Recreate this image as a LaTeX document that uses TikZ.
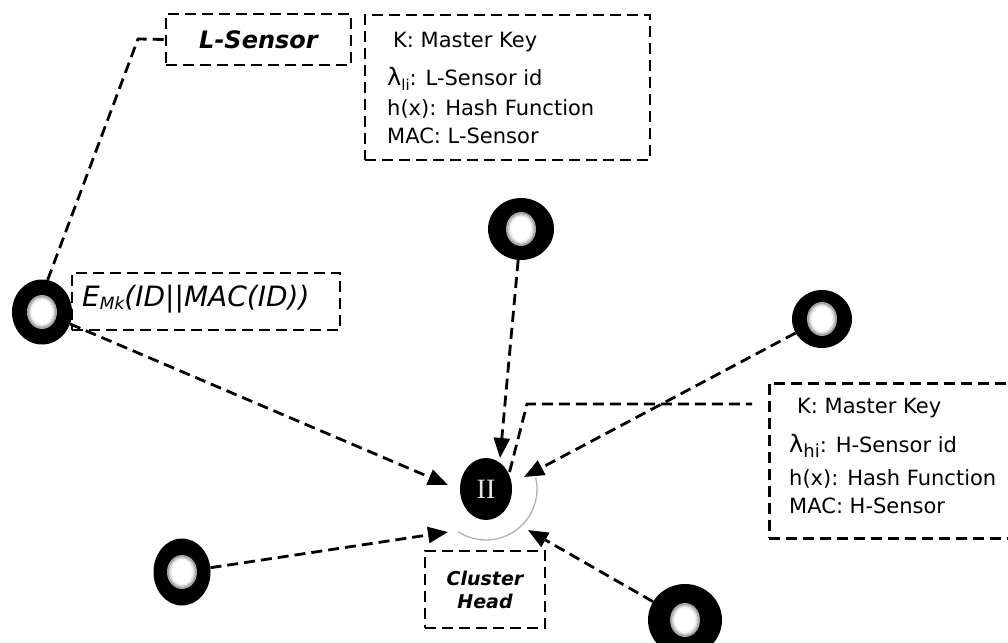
\documentclass[tikz,border=0pt]{standalone}
\usepackage{fontspec}
\setmainfont{DejaVu Sans}
\newfontfamily\serifII{Liberation Serif}
\usetikzlibrary{arrows.meta,shapes.geometric}
\tikzset{
  dsh/.style={line width=2.8pt, dash pattern=on 11pt off 6pt},
  box/.style={draw, dsh, inner sep=0pt},
  conn/.style={dsh, -{Triangle[length=20pt,width=16pt]}},
  info/.style={font=\fontsize{21}{21}\selectfont, anchor=base west, inner sep=0pt},
  sensor/.style={ellipse, fill=black, inner sep=0pt,
    path picture={
      \fill[gray!70] (path picture bounding box.center) ellipse (15pt and 17pt);
      \fill[gray!35] (path picture bounding box.center) ellipse (13pt and 15pt);
      \fill[gray!10] (path picture bounding box.center) ellipse (11.5pt and 13.5pt);
      \fill[white] (path picture bounding box.center) ellipse (10pt and 12pt);}}
}
\newcommand{\lamsub}[2]{{\fontsize{24}{24}\selectfont λ}\raisebox{-5pt}{\fontsize{#2}{#2}\selectfont #1}}
\begin{document}
\begin{tikzpicture}[x=1pt,y=-1pt]
\useasboundingbox (0,0) rectangle (1008,642);

% sensor nodes
\node[sensor, minimum width=60pt, minimum height=65pt] (ls) at (42,312) {};
\node[sensor, minimum width=66pt, minimum height=62pt] (tn) at (521,229) {};
\node[sensor, minimum width=60pt, minimum height=58pt] (rn) at (822,319) {};
\node[sensor, minimum width=57pt, minimum height=67pt] (bl) at (182,572) {};
\node[sensor, minimum width=74pt, minimum height=72pt] (br) at (685,620) {};

% cluster head
\node[ellipse, fill=black, inner sep=0pt, minimum width=52pt, minimum height=62pt,
      text=white!90!black, font=\serifII\fontsize{28}{28}\selectfont] (ch) at (486,489) {II};
\draw[gray!60, line width=1.3pt] ([shift={(-13:51)}]ch.center) arc[start angle=-13, end angle=123, radius=51];

% boxes
\node[box, minimum width=185pt, minimum height=51pt,
      font=\fontsize{24}{24}\selectfont\bfseries\itshape] (lsl) at (258.5,39.5) {L-Sensor};
\node[box, minimum width=285pt, minimum height=145pt] (lbox) at (507.5,87.5) {};
\node[box, minimum width=268pt, minimum height=57pt] (ebox) at (206,301.5) {};
\node[box, minimum width=120pt, minimum height=77pt, align=center,
      font=\fontsize{19}{23}\selectfont\bfseries\itshape] (chl) at (485,589.5) {Cluster\\Head};
\node[box, minimum width=262pt, minimum height=155pt, anchor=north west] (hbox) at (768,382) {};

% texts in L box
\node[info] (lk) at (393,48) {K: Master Key};
\node[info] (ll) at (387,85) {\lamsub{li}{15}: L-Sensor id};
\node[info] (lh) at (387,115) {h(x): Hash Function};
\node[info] (lm) at (387,143) {MAC: L-Sensor};

% texts in H box
\node[info] (hk) at (797,413) {K: Master Key};
\node[info] (hl) at (789,452) {\lamsub{hi}{18}: H-Sensor id};
\node[info] (hh) at (789,485) {h(x): Hash Function};
\node[info] (hm) at (789,513) {MAC: H-Sensor};

% E_Mk text
\node[anchor=base west, inner sep=0pt, font=\fontsize{28}{28}\selectfont\itshape] (et) at (82,306)
  {E\raisebox{-3pt}{\fontsize{17}{17}\selectfont Mk}(ID||MAC(ID))};

% connector coordinates
\coordinate (t1) at (448,485);
\coordinate (t2) at (500,458);
\coordinate (t3) at (524,477);
\coordinate (t4) at (448,532);
\coordinate (t5) at (528,530);
\coordinate (l1) at (138,39);
\coordinate (h1) at (527,404);
\coordinate (h2) at (752,404);

% arrows
\draw[conn] (ls) -- (t1);
\draw[conn] (tn) -- (t2);
\draw[conn] (rn) -- (t3);
\draw[conn] (bl) -- (t4);
\draw[conn] (br) -- (t5);

% label connectors
\draw[dsh] (ls.80) -- (l1) -- (lsl.west);
\draw[dsh] ([shift={(5,5)}]ch.north east) -- (h1) -- (h2);
\end{tikzpicture}
\end{document}
